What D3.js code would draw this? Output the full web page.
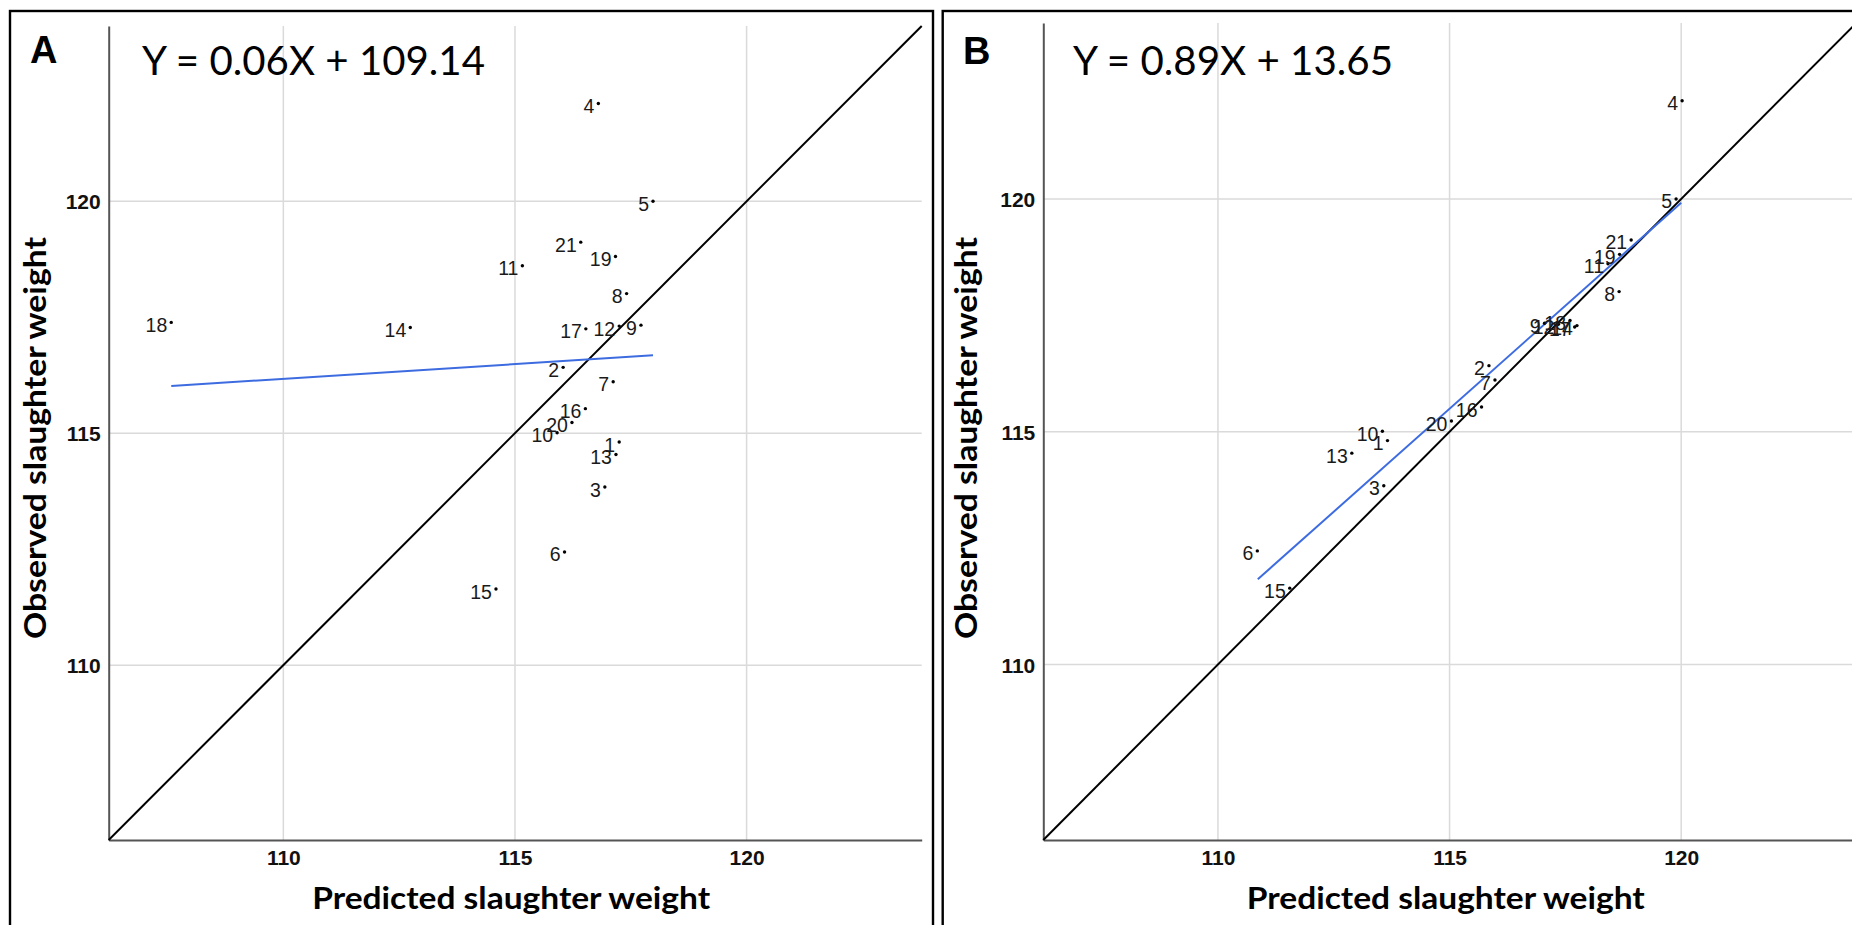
<!DOCTYPE html>
<html><head><meta charset="utf-8">
<script src="https://cdn.jsdelivr.net/npm/d3@7"></script>
<style>
html,body{margin:0;padding:0;background:#fff;}
svg{display:block;}
</style></head>
<body>
<svg id="chart" width="1852" height="925"></svg>
<script>
// ---------- data ----------
const pointIds = [1,2,3,4,5,6,7,8,9,10,11,12,13,14,15,16,17,18,19,20,21];
const observed = [114.81,116.42,113.84,122.11,120.00,112.44,116.11,118.01,117.33,115.01,118.61,117.31,114.54,117.28,111.64,115.53,117.25,117.39,118.81,115.23,119.12];
const predictedA = [117.25,116.04,116.94,116.80,117.98,116.07,117.12,117.41,117.72,115.91,115.16,117.25,117.18,112.74,114.59,116.52,116.53,107.58,117.17,116.23,116.42];
const predictedB = [113.66,115.85,113.58,120.02,119.89,110.85,115.98,118.66,117.05,113.55,118.42,117.35,112.89,117.75,111.55,115.69,117.70,117.60,118.67,115.04,118.92];
const fitA_x = [107.58,117.98], fitA_y = [116.02,116.68];
const fitB_x = [110.86,120.00], fitB_y = [111.83,119.92];
const axisDomain = [106.23,123.78];
const tickValues = [110,115,120];
const panelLetters = ["A","B"];
const equations = ["Y = 0.06X + 109.14","Y = 0.89X + 13.65"];
const xTitle = "Predicted slaughter weight";
const yTitle = "Observed slaughter weight";

// ---------- layout ----------
const svg = d3.select("#chart");
const panels = [
  {letter:panelLetters[0], eq:equations[0], pred:predictedA, fx:fitA_x, fy:fitA_y,
   border:[10,11,923,940], left:108.7, right:921.7, top:26, bottom:840,
   letterX:30, letterY:63, eqX:142, eqW:343, yTitleX:46},
  {letter:panelLetters[1], eq:equations[1], pred:predictedB, fx:fitB_x, fy:fitB_y,
   border:[942.7,11,923,940], left:1043.3, right:1856.3, top:23, bottom:840,
   letterX:963, letterY:64, eqX:1073, eqW:320, yTitleX:977}
];

panels.forEach(p => {
  const g = svg.append("g");
  // frame
  g.append("rect").attr("x",p.border[0]).attr("y",p.border[1])
    .attr("width",p.border[2]).attr("height",p.border[3])
    .attr("fill","none").attr("stroke","#000").attr("stroke-width",2.4);

  const x = d3.scaleLinear().domain(axisDomain).range([p.left,p.right]);
  const y = d3.scaleLinear().domain(axisDomain).range([p.bottom,p.top]);

  // grid
  g.append("g").selectAll("line").data(tickValues).join("line")
    .attr("x1",d=>x(d)).attr("x2",d=>x(d)).attr("y1",p.top).attr("y2",p.bottom)
    .attr("stroke","#dadada").attr("stroke-width",1.5);
  g.append("g").selectAll("line").data(tickValues).join("line")
    .attr("y1",d=>y(d)).attr("y2",d=>y(d)).attr("x1",p.left).attr("x2",p.right)
    .attr("stroke","#dadada").attr("stroke-width",1.5);

  // axes
  const xAxis = d3.axisBottom(x).tickValues(tickValues).tickSize(0).tickPadding(10);
  const yAxis = d3.axisLeft(y).tickValues(tickValues).tickSize(0).tickPadding(8);
  const gx = g.append("g").attr("transform",`translate(0,${p.bottom})`).call(xAxis);
  const gy = g.append("g").attr("transform",`translate(${p.left},0)`).call(yAxis);
  [gx,gy].forEach(a=>{
    a.select(".domain").attr("stroke","#555").attr("stroke-width",2);
    a.selectAll("text").attr("font-family","'Liberation Sans', Arial, sans-serif")
      .attr("font-weight","bold").attr("font-size",21).attr("fill","#111");
  });
  gx.selectAll("text").attr("dy","0.71em").attr("y",10);
  gy.selectAll("text").attr("dy","0.36em");

  // diagonal y = x
  g.append("line").attr("x1",x(axisDomain[0])).attr("y1",y(axisDomain[0]))
    .attr("x2",x(axisDomain[1])).attr("y2",y(axisDomain[1]))
    .attr("stroke","#000").attr("stroke-width",2);

  // fit line
  g.append("line").attr("x1",x(p.fx[0])).attr("y1",y(p.fy[0]))
    .attr("x2",x(p.fx[1])).attr("y2",y(p.fy[1]))
    .attr("stroke","#3d6be0").attr("stroke-width",2);

  // points
  const pts = pointIds.map((id,i)=>({id, px:p.pred[i], ob:observed[i]}));
  g.append("g").selectAll("circle").data(pts).join("circle")
    .attr("cx",d=>x(d.px)).attr("cy",d=>y(d.ob)).attr("r",1.7).attr("fill","#000");
  g.append("g").selectAll("text").data(pts).join("text")
    .attr("x",d=>x(d.px)-4).attr("y",d=>y(d.ob)+9.5)
    .attr("text-anchor","end")
    .attr("font-family","'Liberation Sans', Arial, sans-serif")
    .attr("font-size",19.5).attr("fill","#1a1a1a")
    .text(d=>d.id);

  // panel letter
  g.append("text").attr("x",p.letterX).attr("y",p.letterY)
    .attr("font-family","'Liberation Sans', Arial, sans-serif").attr("font-weight","bold")
    .attr("font-size",38).attr("fill","#000").text(p.letter);
  // equation
  g.append("text").attr("x",p.eqX).attr("y",75)
    .attr("font-family","Lato, 'Open Sans', sans-serif")
    .attr("font-size",41).attr("fill","#000")
    .attr("textLength",p.eqW).attr("lengthAdjust","spacingAndGlyphs")
    .text(p.eq);

  // axis titles
  const cx = (p.left + p.right)/2 - 4;
  g.append("text").attr("x",cx).attr("y",909).attr("text-anchor","middle")
    .attr("font-family","Lato, 'Open Sans', sans-serif").attr("font-weight","bold")
    .attr("font-size",31).attr("fill","#000")
    .attr("textLength",398).attr("lengthAdjust","spacingAndGlyphs")
    .text(xTitle);
  g.append("text").attr("transform",`translate(${p.yTitleX},438) rotate(-90)`)
    .attr("text-anchor","middle")
    .attr("font-family","Lato, 'Open Sans', sans-serif").attr("font-weight","bold")
    .attr("font-size",31).attr("fill","#000")
    .attr("textLength",402).attr("lengthAdjust","spacingAndGlyphs")
    .text(yTitle);
});
</script>
</body></html>
